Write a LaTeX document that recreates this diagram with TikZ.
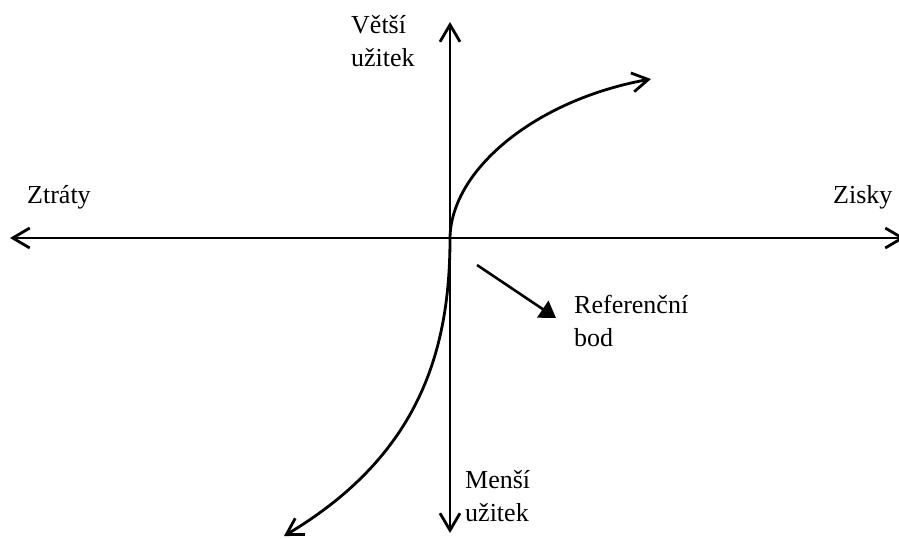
\documentclass[tikz,border=0pt]{standalone}
\usepackage{fontspec}
\setmainfont{Liberation Serif}
\usetikzlibrary{arrows.meta}
\tikzset{
  axis/.style={line width=2.8pt, {Straight Barb[length=17pt,width=20pt]}-{Straight Barb[length=17pt,width=20pt]}},
  curvearrow/.style={line width=2.8pt, -{Straight Barb[length=16pt,width=19pt]}},
  refarrow/.style={line width=2.6pt, -{Triangle[length=16pt,width=20pt]}},
  lbl/.style={anchor=base west, inner sep=0pt, font=\fontsize{26}{33}\selectfont}
}
\newcommand{\twolines}[2]{\vtop{\baselineskip=33pt\hbox{#1}\hbox{#2}}}
\begin{document}
\begin{tikzpicture}[x=1pt,y=-1pt]
\useasboundingbox (0,0) rectangle (899,538);
\coordinate (O) at (450,238);
\coordinate (L) at (10,238);
\coordinate (R) at (905,238);
\coordinate (T) at (450,22);
\coordinate (B) at (450,533);
\coordinate (U) at (651,79);
\coordinate (D) at (284,536);
\coordinate (RS) at (477,265);
\coordinate (RE) at (556,318);
\draw[axis] (L) -- (R);
\draw[axis] (B) -- (T);
\draw[curvearrow] (O) .. controls (451,170) and (535,100) .. (U);
\draw[curvearrow] (O) .. controls (450,350) and (420,455) .. (D);
\draw[refarrow] (RS) -- (RE);
\node[lbl] (ztraty) at (27,203) {Ztráty};
\node[lbl] (zisky) at (833,203) {Zisky};
\node[lbl] (vetsi) at (351,33) {\twolines{Větší}{užitek}};
\node[lbl] (mensi) at (465,488) {\twolines{Menší}{užitek}};
\node[lbl] (ref) at (574,313) {\twolines{Referenční}{bod}};
\end{tikzpicture}
\end{document}
